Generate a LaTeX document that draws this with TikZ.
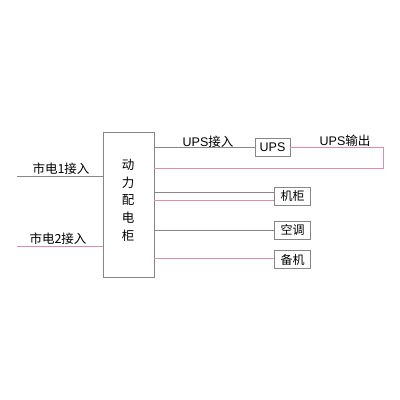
\documentclass[tikz,border=0pt]{standalone}
\usepackage{fontspec}
\setmainfont{Liberation Sans}
\newfontfamily\cjk{Noto Sans CJK SC}
\definecolor{lgray}{RGB}{135,135,135}
\definecolor{lpink}{RGB}{225,140,165}
\begin{document}
\begin{tikzpicture}[x=1pt,y=-1pt,
  box/.style={draw=lgray,line width=0.8pt,inner sep=0pt,minimum width=36pt,minimum height=18pt,font=\cjk\fontsize{12}{12}\selectfont},
  gline/.style={draw=lgray,line width=0.8pt},
  pline/.style={draw=lpink,line width=0.8pt},
  lbl/.style={font=\cjk\fontsize{12.5}{13}\selectfont,inner sep=0pt}]
\useasboundingbox (0,0) rectangle (400,400);
\fill[white] (0,0) rectangle (400,400);
% main cabinet
\node[draw=lgray,line width=0.8pt,minimum width=51pt,minimum height=145pt,inner sep=0pt] (main) at (128.5,205) {};
\node[lbl] (t1) at (128,165) {动};
\node[lbl] (t2) at (128,182.7) {力};
\node[lbl] (t3) at (128,200.4) {配};
\node[lbl] (t4) at (128,218.1) {电};
\node[lbl] (t5) at (128,235.8) {柜};
% inputs
\coordinate (in1) at (17,176.7);
\coordinate (in2) at (17,246.7);
\draw[gline] (in1) -- (in1 -| main.west);
\draw[pline] (in2) -- (in2 -| main.west);
\node[lbl] (l1) at (61,169) {市电1接入};
\node[lbl] (l2) at (58,238.5) {市电2接入};
% UPS
\node[box,minimum width=35pt,font=\fontsize{12.5}{12.5}\selectfont] (ups) at (272.5,147.3) {UPS};
\draw[gline] (ups.west) -- (ups.west -| main.east);
\coordinate (c1) at (383,147.3);
\coordinate (c2) at (383,168.3);
\draw[pline] (ups.east) -- (c1) -- (c2) -- (c2 -| main.east);
\node[inner sep=0pt,font=\fontsize{12.5}{12.5}\selectfont] (ul1) at (208,141.5) {UPS{\cjk 接入}};
\node[inner sep=0pt,font=\fontsize{12.5}{12.5}\selectfont] (ul2) at (345,141) {UPS{\cjk 输出}};
% loads
\node[box] (jg) at (292.5,196) {机柜};
\node[box] (kt) at (292.5,230.3) {空调};
\node[box] (bj) at (292.5,259.8) {备机};
\draw[gline] ([yshift=3.8pt]jg.west) -- ([yshift=3.8pt]jg.west -| main.east);
\draw[pline] ([yshift=-4pt]jg.west) -- ([yshift=-4pt]jg.west -| main.east);
\draw[gline] (kt.west) -- (kt.west -| main.east);
\draw[pline] ([yshift=1.5pt]bj.west) -- ([yshift=1.5pt]bj.west -| main.east);
\end{tikzpicture}
\end{document}
